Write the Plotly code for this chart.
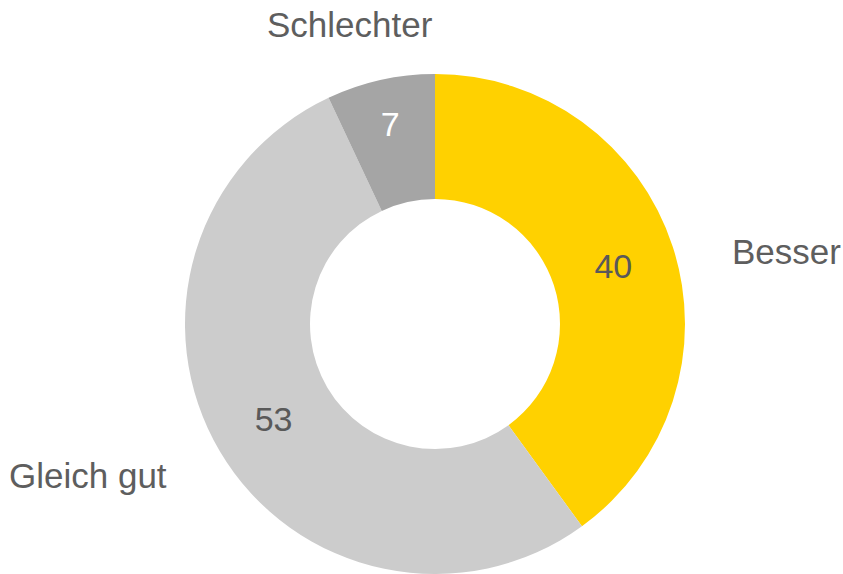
import plotly.graph_objects as go

categories = ["Besser", "Gleich gut", "Schlechter"]
values = [40, 53, 7]

colors = ["#FFD100", "#CCCCCC", "#A5A5A5"]
value_font_colors = ["#595959", "#595959", "#FFFFFF"]

W, H = 843, 574
FONT = "Liberation Sans, Arial"
fig = go.Figure()
fig.add_trace(go.Pie(
    labels=categories,
    values=values,
    hole=0.5,
    sort=False,
    direction="clockwise",
    rotation=0,
    marker=dict(colors=colors, line=dict(width=0)),
    textinfo="value",
    textposition="inside",
    insidetextorientation="horizontal",
    textfont=dict(family=FONT, size=34, color=value_font_colors),
    showlegend=False,
    hoverinfo="label+value",
    domain=dict(x=[184 / W, 686 / W], y=[0.0, 500 / H]),
))

# category labels placed outside the ring
label_pos = {"Besser": (786, 252), "Gleich gut": (88, 475), "Schlechter": (350, 25)}
for cat in categories:
    px, py = label_pos[cat]
    fig.add_annotation(
        text=cat, x=px / W, y=1 - py / H, xref="paper", yref="paper",
        xanchor="center", yanchor="middle", showarrow=False,
        font=dict(family=FONT, size=35, color="#5E5E5E"),
    )

fig.update_layout(
    width=W, height=H,
    margin=dict(l=0, r=0, t=0, b=0),
    paper_bgcolor="white",
    plot_bgcolor="white",
)
fig.write_html(
    "out.html",
    config={"displayModeBar": False},
    post_script="document.body.style.margin='0';document.body.style.overflow='hidden';",
)
